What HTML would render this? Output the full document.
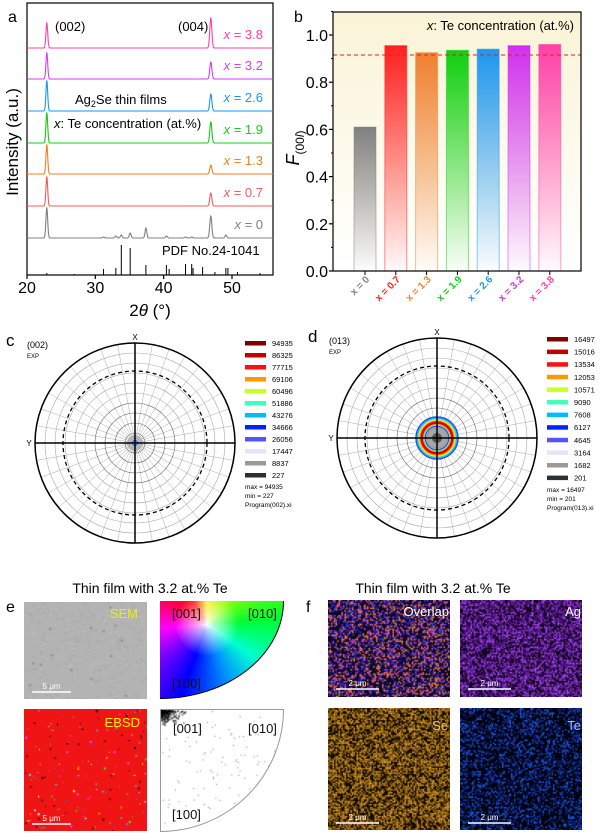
<!DOCTYPE html>
<html><head><meta charset="utf-8">
<style>
html,body{margin:0;padding:0;background:#fff;}
#wrap{position:relative;width:600px;height:840px;overflow:hidden;font-family:"Liberation Sans",sans-serif;}
canvas,.abs{position:absolute;}
svg{position:absolute;left:0;top:0;}
</style></head>
<body>
<div id="wrap">
<canvas id="sem" width="123" height="97" style="left:24px;top:602px"></canvas>
<div class="abs" style="left:160px;top:601px;width:123px;height:97px;border-bottom-right-radius:100% 100%;overflow:hidden;border-right:1.5px solid #000;border-bottom:1.5px solid #000;background:radial-gradient(circle at 38% 24%,#fff 0,rgba(255,255,255,0.7) 6%,rgba(255,255,255,0) 30%),conic-gradient(from 0deg at 38% 24%,#ffee00 0deg,#a0ff00 40deg,#00ff30 85deg,#00ffd0 125deg,#0090ff 160deg,#0000ff 200deg,#8000ff 235deg,#ff00ff 265deg,#ff0050 300deg,#ff1000 330deg,#ffee00 360deg);"></div>
<canvas id="ebsd" width="123" height="122" style="left:24px;top:709px"></canvas>
<div class="abs" style="left:160px;top:709px;width:122px;height:121px;border-bottom-right-radius:100% 100%;overflow:hidden;border:1px solid #999;background:#fff;"><canvas id="ipf" width="122" height="121" style="left:0;top:0"></canvas></div>
<canvas id="ovl" width="122" height="97" style="left:328px;top:600px"></canvas>
<canvas id="ag" width="122" height="97" style="left:460px;top:600px"></canvas>
<canvas id="se" width="122" height="122" style="left:328px;top:708px"></canvas>
<canvas id="te" width="122" height="122" style="left:460px;top:708px"></canvas>
<svg id="svg" width="600" height="840" xmlns="http://www.w3.org/2000/svg"></svg>
</div>
<script>
// ===== Panel a data =====
const aSeries = ['x = 3.8','x = 3.2','x = 2.6','x = 1.9','x = 1.3','x = 0.7','x = 0'];
const aValues = ['3.8','3.2','2.6','1.9','1.3','0.7','0'];
const aColors = ['#ff40a8','#d23ff0','#1e96f0','#19c819','#f08020','#f25c5c','#808080'];
const aPeak002 = [25,26,30,30,29,29,30];
const aPeak004 = [30,17,17,21,9,13,22];
const aExtraPos = [31.2,33.0,33.8,35.1,37.4,40.4,43.2,44.1,49.1];
const aExtraH = [1,2,3,5,10,2,1,1,3];
const pdfPos = [22.9,26.9,31.2,33.0,33.8,35.1,37.4,40.4,40.8,43.2,44.1,44.3,45.7,47.5,49.1,49.4,50.8,54.1];
const pdfH = [2,1,6,7,30,27,10,10,6,11,11,7,8,3,7,7,3,2];
const aXTicks = [20,30,40,50];
// ===== Panel b data =====
const bCats = ['x = 0','x = 0.7','x = 1.3','x = 1.9','x = 2.6','x = 3.2','x = 3.8'];
const bVals = [0.61,0.955,0.925,0.935,0.94,0.955,0.96];
const bColors = ['#808080','#ff2020','#f08030','#10d010','#1e96f0','#d030f0','#ff40a8'];
const bLine = [0.915];
const bYTicks = [0.0,0.2,0.4,0.6,0.8,1.0];
// ===== Pole figure legends =====
const cLegend = ['94935','86325','77715','69106','60496','51886','43276','34666','26056','17447','8837','227'];
const dLegend = ['16497','15016','13534','12053','10571','9090','7608','6127','4645','3164','1682','201'];
const legColors = ['#800000','#c00000','#ff1010','#ff9900','#ccff22','#44ffbb','#00bbff','#0022ff','#5555ff','#e4e4ff','#999999','#2a3038'];

const NS='http://www.w3.org/2000/svg';
const svg=document.getElementById('svg');
function el(tag,attrs,parent){const e=document.createElementNS(NS,tag);for(const k in attrs)e.setAttribute(k,attrs[k]);(parent||svg).appendChild(e);return e;}
function txt(x,y,s,attrs,parent){const t=el('text',Object.assign({x:x,y:y,'font-family':'Liberation Sans, sans-serif'},attrs||{}),parent);t.textContent=s;return t;}

// ---------- Panel a ----------
const A={l:27,r:273,t:3,b:275,x0:20,x1:56};
const xA=d=>A.l+(d-A.x0)/(A.x1-A.x0)*(A.r-A.l);
const bases=[48,79,111,143,174,206,238];
const yA=(i,v)=>bases[i]-v;
const gA=el('g',{});


el('rect',{x:A.l,y:A.t,width:A.r-A.l,height:A.b-A.t,fill:'none',stroke:'#000','stroke-width':1.2},gA);
function gauss(d,p,h,s){return h*Math.exp(-(d-p)*(d-p)/(2*s*s));}
aSeries.forEach((nm,i)=>{
  let pts=[];
  for(let d=A.x0;d<=A.x1+0.001;d+=0.025){
    let v=gauss(d,22.9,aPeak002[i],0.13)+gauss(d,46.9,aPeak004[i],0.15);
    if(i===6){aExtraPos.forEach((p,j)=>{v+=gauss(d,p,aExtraH[j],0.13);});}
    pts.push(xA(d).toFixed(2)+','+yA(i,v).toFixed(2));
  }
  const p=el('polyline',{points:pts.join(' '),fill:'none',stroke:aColors[i],'stroke-width':1.1},gA);
  
  
  const t=el('text',{x:263,y:bases[i]-9,'text-anchor':'end','font-size':13,fill:aColors[i],'font-family':'Liberation Sans, sans-serif'},gA);
  
  
  const ts=el('tspan',{'font-style':'italic'},t);ts.textContent='x';
  const ts2=el('tspan',{},t);ts2.textContent=' = '+aValues[i];
});
pdfPos.forEach((p,j)=>{
  const ln=el('line',{x1:xA(p),x2:xA(p),y1:A.b,y2:A.b-pdfH[j],stroke:'#000','stroke-width':1},gA);
  
  
});
aXTicks.forEach(v=>{
  el('line',{x1:xA(v),x2:xA(v),y1:A.b,y2:A.b+4,stroke:'#000','stroke-width':1.2},gA);
  const t=txt(xA(v),293,String(v),{'text-anchor':'middle','font-size':16},gA);
  
  
});
txt(55,31,'(002)',{'font-size':13,},gA);
txt(178,31,'(004)',{'font-size':13,},gA);
(function(){const t=txt(75,104,'',{'font-size':13,},gA);
 t.innerHTML='Ag<tspan font-size="9" dy="3">2</tspan><tspan dy="-3">Se thin films</tspan>';})();
(function(){const t=txt(54,128,'',{'font-size':13,},gA);
 t.innerHTML='<tspan font-style="italic">x</tspan>: Te concentration (at.%)';})();
txt(162,255,'PDF No.24-1041',{'font-size':13,},gA);
txt(8,22,'a',{'font-size':16,},gA);
(function(){const t=txt(0,0,'Intensity (a.u.)',{'font-size':17,'text-anchor':'middle',transform:'translate(18,142) rotate(-90)',},gA);})();
(function(){const t=txt(150,316,'',{'font-size':17,'text-anchor':'middle',},gA);
 t.innerHTML='2<tspan font-style="italic">θ</tspan> (°)';})();

// ---------- Panel b ----------
const B={l:333,r:581,t:12,b:271,ymax:1.1};
const yB=v=>B.b-v/1.0*236;
const xB=i=>365+i*30.8;
const gB=el('g',{});


const defs=el('defs',{});
const bg=el('linearGradient',{id:'bgB',x1:0,y1:0,x2:0,y2:1},defs);
el('stop',{offset:'0','stop-color':'#faf3d6'},bg);el('stop',{offset:'0.6','stop-color':'#fdfbef'},bg);el('stop',{offset:'1','stop-color':'#ffffff'},bg);
el('rect',{x:B.l,y:B.t,width:B.r-B.l,height:B.b-B.t,fill:'url(#bgB)'},gB);
bVals.forEach((v,i)=>{
  const g=el('linearGradient',{id:'bar'+i,x1:0,y1:0,x2:0,y2:1},defs);
  el('stop',{offset:'0','stop-color':bColors[i]},g);el('stop',{offset:'1','stop-color':bColors[i],'stop-opacity':'0.02'},g);
  const r=el('rect',{x:xB(i)-11,y:yB(v),width:22,height:yB(0)-yB(v),fill:'url(#bar'+i+')',stroke:bColors[i],'stroke-opacity':0.5,'stroke-width':1},gB);
  
  
  const t=txt(0,0,bCats[i],{'font-size':10,'font-weight':'bold',fill:bColors[i],'text-anchor':'end',transform:'translate('+(xB(i)+5)+',280) rotate(-45)'},gB);
  
  
  el('line',{x1:xB(i),x2:xB(i),y1:B.b,y2:B.b+4,stroke:'#000','stroke-width':1},gB);
});
(function(){const l=el('line',{x1:B.l,x2:B.r,y1:yB(bLine[0]),y2:yB(bLine[0]),stroke:'#e02020','stroke-width':1,'stroke-dasharray':'4,3'},gB);
 })();
el('rect',{x:B.l,y:B.t,width:B.r-B.l,height:B.b-B.t,fill:'none',stroke:'#000','stroke-width':1.2},gB);
bYTicks.forEach(v=>{
  el('line',{x1:B.l,x2:B.l-4,y1:yB(v),y2:yB(v),stroke:'#000','stroke-width':1.2},gB);
  el('line',{x1:B.l,x2:B.l-2,y1:yB(v+0.1),y2:yB(v+0.1),stroke:'#000','stroke-width':1},gB);
  const t=txt(B.l-5,yB(v)+6,v.toFixed(1),{'font-size':16,'text-anchor':'end'},gB);
  
  
});
(function(){const t=txt(574,30,'',{'font-size':13,'text-anchor':'end',},gB);
 t.innerHTML='<tspan font-style="italic">x</tspan>: Te concentration (at.%)';})();
(function(){const t=txt(0,0,'',{'font-size':18,'text-anchor':'middle',transform:'translate(299,148) rotate(-90)',},gB);
 t.innerHTML='<tspan font-style="italic">F</tspan><tspan font-size="12" dy="5">(00<tspan font-style="italic">l</tspan>)</tspan>';})();
txt(294,22,'b',{'font-size':16,},gB);

// ---------- Pole figures ----------
function pole(cx,cy,name,letter,lx,ly,hkl,legend,legX,legY,step,maxs,mins,prog,rings){
  const g=el('g',{});
  
  
  for(let a=0;a<360;a+=10){const r=a*Math.PI/180;el('line',{x1:cx,y1:cy,x2:cx+100*Math.cos(r),y2:cy+100*Math.sin(r),stroke:'#aaa','stroke-width':0.5},g);}
  for(let r=10;r<100;r+=10){el('circle',{cx:cx,cy:cy,r:r,fill:'none',stroke:r<50?'#666':'#aaa','stroke-width':0.6},g);}
  rings(g);
  el('circle',{cx:cx,cy:cy,r:72,fill:'none',stroke:'#000','stroke-width':1.3,'stroke-dasharray':'4,3'},g);
  el('circle',{cx:cx,cy:cy,r:100,fill:'none',stroke:'#000','stroke-width':1.5},g);
  el('line',{x1:cx-100,x2:cx+100,y1:cy,y2:cy,stroke:'#000','stroke-width':1.5},g);
  el('line',{x1:cx,x2:cx,y1:cy-100,y2:cy+100,stroke:'#000','stroke-width':1.5},g);
  txt(cx,cy-103,'X',{'font-size':8,'text-anchor':'middle'},g);
  txt(cx-106,cy+3,'Y',{'font-size':8,'text-anchor':'middle'},g);
  txt(lx,ly,letter,{'font-size':17},g);
  txt(lx+21,ly+2,hkl,{'font-size':9},g);
  txt(lx+21,ly+12,'EXP',{'font-size':6},g);
  legend.forEach((s,i)=>{
    const r=el('rect',{x:legX,y:legY+i*step-2,width:21,height:4.5,fill:legColors[i]},g);
    
    
    const t=txt(legX+27,legY+i*step+3,s,{'font-size':7.5});
    g.appendChild(t);
    
    
  });
  const yy=legY+legend.length*step+2;
  txt(legX,yy,'max = '+maxs,{'font-size':6.5},g);
  txt(legX,yy+9,'min = '+mins,{'font-size':6.5},g);
  txt(legX,yy+18,prog,{'font-size':6.5},g);
}
pole(135,443,'pole-figure-002','c',6,346,'(002)',cLegend,245,343,12,'94935','227','Program(002).xi',g=>{
  el('circle',{cx:135,cy:443,r:8,fill:'#aaa',opacity:0.8},g);
  el('circle',{cx:135,cy:443,r:4,fill:'#ccc'},g);
  el('circle',{cx:135,cy:443,r:2.5,fill:'none',stroke:'#1060ff','stroke-width':1.2},g);
});
pole(437,438,'pole-figure-013','d',308,342,'(013)',dLegend,547,339,12.6,'16497','201','Program(013).xi',g=>{
  el('circle',{cx:437,cy:438,r:12,fill:'#999',opacity:0.8},g);
  el('circle',{cx:437,cy:438,r:5,fill:'#555'},g);
  [[21,'#2050ff',1.5],[19.5,'#20c0ff',1.5],[18.3,'#c0ff20',1.2],[17,'#ff9900',1.3],[15.3,'#e00000',2.6],[13.5,'#ff9900',1],[12.6,'#40ffc0',1],[11.8,'#2040ff',1]].forEach(a=>{
    el('circle',{cx:437,cy:438,r:a[0],fill:'none',stroke:a[1],'stroke-width':a[2]},g);
  });
});

// ---------- Panel e/f labels ----------
txt(150,593,'Thin film with 3.2 at.% Te',{'font-size':14,'text-anchor':'middle',});
txt(433,593,'Thin film with 3.2 at.% Te',{'font-size':14,'text-anchor':'middle',});
txt(6,612,'e',{'font-size':16,});
txt(306,612,'f',{'font-size':16,});
txt(138,618,'SEM',{'font-size':13,fill:'#f0f000','text-anchor':'end',});
txt(140,727,'EBSD',{'font-size':13,fill:'#f0f000','text-anchor':'end',});
function sb(x,y,w,label,nm){el('line',{x1:x,x2:x+w,y1:y,y2:y,stroke:'#fff','stroke-width':1.5});
  const t=txt(x+w/2,y-3,label,{'font-size':8,fill:'#fff','text-anchor':'middle'});}
sb(32,692,39,'5 μm','scale-bar-sem');sb(32,824,39,'5 μm','scale-bar-ebsd');
sb(336,689,43,'2 μm','scale-bar-overlap');sb(468,689,43,'2 μm','scale-bar-ag');
sb(336,823,43,'2 μm','scale-bar-se');sb(468,823,43,'2 μm','scale-bar-te');
[['[001]',172,618],['[010]',248,618],['[100]',172,688],['[001]',173,733],['[010]',248,733],['[100]',172,819]].forEach((a,i)=>{
  const t=txt(a[1],a[2],a[0],{'font-size':13,fill:'#111'});
  
  
});
txt(449,616,'Overlap',{'font-size':13,fill:'#fff','text-anchor':'end',});
txt(581,616,'Ag',{'font-size':13,fill:'#fff','text-anchor':'end',});
txt(448,730,'Se',{'font-size':13,fill:'#f0c060','text-anchor':'end',});
txt(581,730,'Te',{'font-size':13,fill:'#9ab8ff','text-anchor':'end',});

// ---------- textures ----------
let seed=12345;function rnd(){seed=(seed*1103515245+12345)%2147483648;return seed/2147483648;}
function noise(id,base,colors,prob,sz){
  const c=document.getElementById(id),x=c.getContext('2d');
  x.fillStyle=base;x.fillRect(0,0,c.width,c.height);
  for(let i=0;i<c.width;i+=sz)for(let j=0;j<c.height;j+=sz){if(rnd()<prob){x.fillStyle=colors[Math.floor(rnd()*colors.length)];x.fillRect(i,j,sz,sz);}}
}
noise('ovl','#0c0824',['#3040ff','#ff9020','#c040c0','#2020a0','#ff60a0'],0.45,1.5);
noise('ag','#140620',['#7020b0','#9030e0','#5a1890','#b050ff'],0.55,1.5);
noise('se','#140c03',['#b07a10','#d09020','#8a5c08','#e0a030'],0.55,1.5);
noise('te','#02030f',['#1040c0','#2060ff','#0a2a90'],0.32,1.5);
(function(){const c=document.getElementById('sem'),x=c.getContext('2d');x.fillStyle='#b3b3b3';x.fillRect(0,0,123,97);
 for(let i=0;i<400;i++){x.fillStyle=rnd()<0.5?'rgba(140,140,140,0.35)':'rgba(215,215,215,0.35)';x.fillRect(rnd()*123,rnd()*97,2,1);}
 for(let i=0;i<15;i++){x.fillStyle='rgba(90,90,90,0.45)';x.fillRect(rnd()*123,rnd()*97,2,2);}})();
(function(){const c=document.getElementById('ebsd'),x=c.getContext('2d');x.fillStyle='#f01414';x.fillRect(0,0,123,122);
 const cs=['#20ff20','#ff40ff','#4060ff','#000','#000','#fff','#00ffff','#ffff00','#c02060'];
 for(let i=0;i<180;i++){x.fillStyle=cs[Math.floor(rnd()*cs.length)];x.fillRect(rnd()*123,rnd()*122,rnd()<0.3?2:1,rnd()<0.3?2:1);}})();
(function(){const c=document.getElementById('ipf'),x=c.getContext('2d');
 for(let i=0;i<260;i++){const px=rnd()*rnd()*25,py=rnd()*rnd()*15;x.fillStyle='rgba(0,0,0,0.6)';x.fillRect(px,py,1.5,1.5);}
 for(let i=0;i<120;i++){x.fillStyle='rgba(60,60,60,0.7)';x.fillRect(rnd()*120,rnd()*118,1,1);}})();
</script>
</body></html>
